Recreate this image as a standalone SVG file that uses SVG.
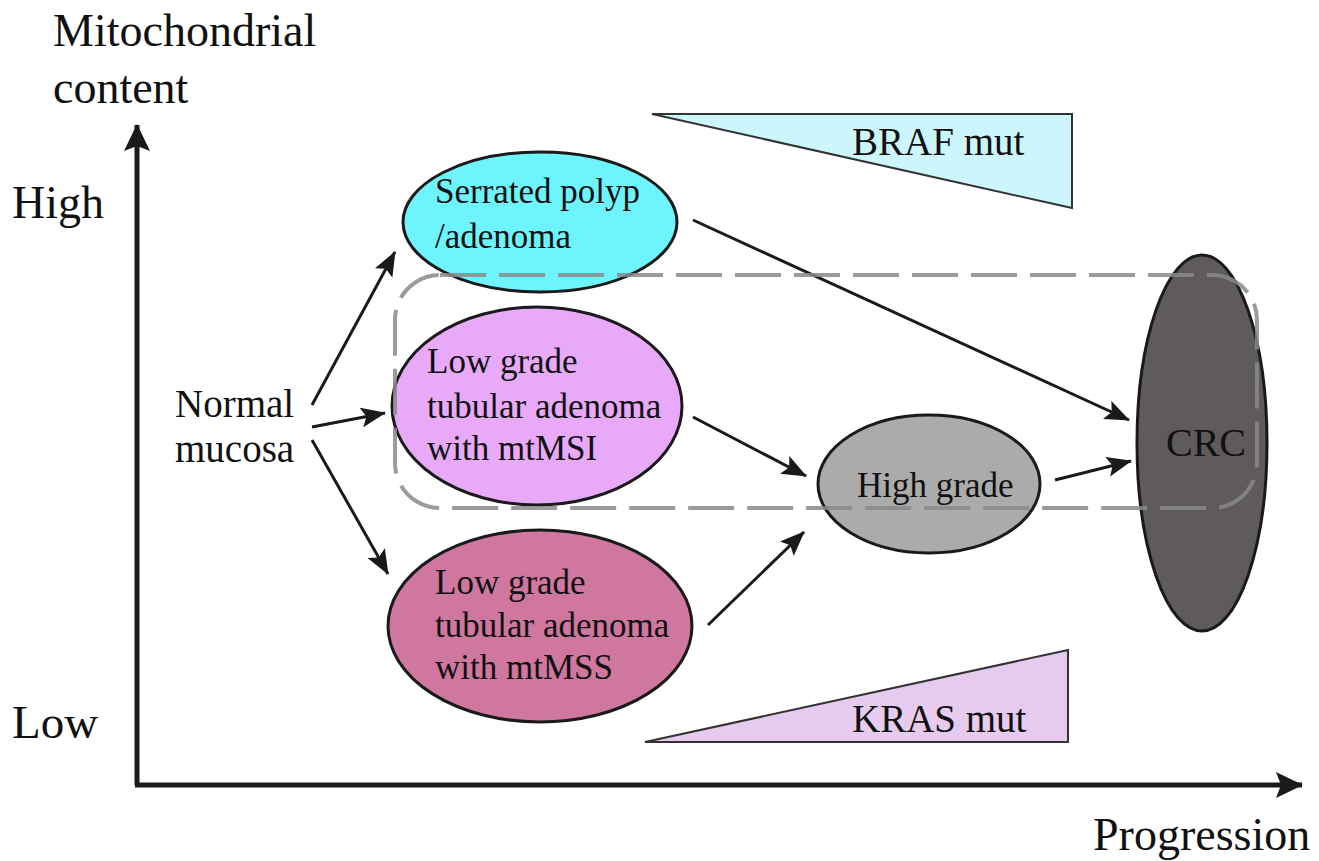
<svg xmlns="http://www.w3.org/2000/svg" width="1319" height="861" viewBox="0 0 1319 861">
<style>
text{font-family:"Liberation Serif","Times New Roman",serif;fill:#111}
.node{stroke:#1a1a1a;stroke-width:3}
.conn{stroke:#1a1a1a;stroke-width:3;fill:none;marker-end:url(#ah)}
.axis{stroke:#1a1a1a;stroke-width:5;fill:none}
.tri{stroke:#333;stroke-width:2}
</style>
<defs>
<marker id="ah" markerUnits="userSpaceOnUse" markerWidth="26" markerHeight="22" refX="24" refY="10" orient="auto">
<path d="M0,0 L25,10 L0,20 L5,10 Z" fill="#1a1a1a"/>
</marker>
<marker id="axh" markerUnits="userSpaceOnUse" markerWidth="30" markerHeight="30" refX="26" refY="13" orient="auto">
<path d="M0,0 L27,13 L0,26 L5,13 Z" fill="#1a1a1a"/>
</marker>
</defs>
<rect width="1319" height="861" fill="#fff"/>
<g id="axes">
<path class="axis" d="M137,785 L137,125" marker-end="url(#axh)"/>
<path class="axis" d="M135,785 L1302,785" marker-end="url(#axh)"/>
<text x="53" y="46" font-size="46">Mitochondrial</text>
<text x="53" y="103" font-size="46">content</text>
<text x="12" y="218" font-size="46">High</text>
<text x="12" y="738" font-size="47">Low</text>
<text x="1093" y="850" font-size="46">Progression</text>
</g>
<g id="braf">
<polygon class="tri" points="652,114 1072,114 1072,208" fill="#ccf6fb"/>
<text x="852" y="155" font-size="39">BRAF mut</text>
</g>
<g id="kras">
<polygon class="tri" points="645,742 1068,650 1068,742" fill="#e6cbef"/>
<text x="852" y="732" font-size="39">KRAS mut</text>
</g>
<g id="normal">
<text x="175" y="417" font-size="39">Normal</text>
<text x="175" y="462" font-size="39">mucosa</text>
</g>
<g id="serrated">
<ellipse class="node" cx="540" cy="222" rx="137" ry="70" fill="#6ef4fd"/>
<text x="435" y="203" font-size="35">Serrated polyp</text>
<text x="435" y="248" font-size="35">/adenoma</text>
</g>
<g id="msi">
<ellipse class="node" cx="537" cy="406" rx="145" ry="99" fill="#e8a9f9"/>
<text x="427" y="373" font-size="35">Low grade</text>
<text x="427" y="418" font-size="35">tubular adenoma</text>
<text x="427" y="460" font-size="35">with mtMSI</text>
</g>
<g id="mss">
<ellipse class="node" cx="540" cy="626" rx="152" ry="96" fill="#cf779f"/>
<text x="435" y="594" font-size="35">Low grade</text>
<text x="435" y="637" font-size="35">tubular adenoma</text>
<text x="435" y="679" font-size="35">with mtMSS</text>
</g>
<g id="highgrade">
<ellipse class="node" cx="929" cy="484" rx="111" ry="69" fill="#ababab"/>
<text x="857" y="497" font-size="35">High grade</text>
</g>
<g id="crc">
<ellipse class="node" cx="1202" cy="443" rx="65" ry="188" fill="#5f5a5b"/>
<text x="1166" y="456" font-size="40">CRC</text>
</g>
<g id="connectors">
<line class="conn" x1="312" y1="405" x2="395" y2="252"/>
<line class="conn" x1="312" y1="427" x2="385" y2="413"/>
<line class="conn" x1="312" y1="440" x2="388" y2="574"/>
<line class="conn" x1="693" y1="417" x2="806" y2="476"/>
<line class="conn" x1="708" y1="625" x2="804" y2="532"/>
<line class="conn" x1="693" y1="220" x2="1129" y2="420"/>
<line class="conn" x1="1055" y1="480" x2="1131" y2="461"/>
</g>
<g id="group-box">
<rect x="395" y="275" width="862" height="233" rx="45" ry="45" fill="none" stroke="#8a8a8a" stroke-opacity="0.85" stroke-width="4" stroke-dasharray="46 13"/>
</g>
</svg>
